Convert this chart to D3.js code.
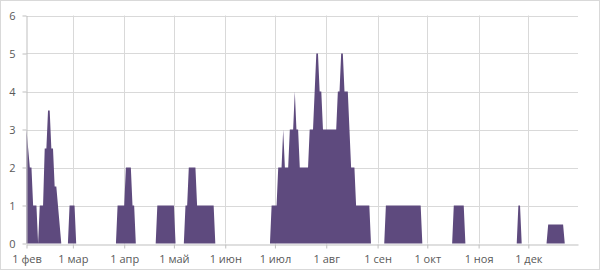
<!DOCTYPE html>
<html><head><meta charset="utf-8">
<script src="https://cdn.jsdelivr.net/npm/d3@7"></script>
<style>
html,body{margin:0;padding:0;background:#fff;}
svg{display:block;}
text{font-family:"Open Sans","Noto Sans",sans-serif;}
</style></head>
<body>
<svg id="c" width="600" height="270"></svg>
<script>
// daily values, one array per month (year without Feb 29)
const feb = [3,2.5,2,2,1,1,1,0,1,1,1,2.5,2.5,3.5,3.5,2.5,2.5,1.5,1.5,1,0.5,0,0,0,0,0,1,1];
const mar = [1,1,0,0,0,0,0,0,0,0,0,0,0,0,0,0,0,0,0,0,0,0,0,0,0,0,0,1,1,1,1];
const apr = [1,2,2,2,2,1,1,0,0,0,0,0,0,0,0,0,0,0,0,0,1,1,1,1,1,1,1,1,1,1];
const may = [1,0,0,0,0,0,0,1,1,2,2,2,2,2,1,1,1,1,1,1,1,1,1,1,1,0,0,0,0,0,0];
const jun = [0,0,0,0,0,0,0,0,0,0,0,0,0,0,0,0,0,0,0,0,0,0,0,0,0,0,0,0,1,1];
const jul = [1,1,2,2,2,3,2,2,2,3,3,3,4,3,3,2,2,2,2,2,2,3,3,3,4,5,5,4,4,3,3];
const aug = [3,3,3,3,3,3,3,4,4,5,5,4,4,4,3,2,2,2,1,1,1,1,1,1,1,1,1,0,0,0,0];
const sep = [0,0,0,0,0,1,1,1,1,1,1,1,1,1,1,1,1,1,1,1,1,1,1,1,1,1,1,0,0,0];
const oct = [0,0,0,0,0,0,0,0,0,0,0,0,0,0,0,0,1,1,1,1,1,1,1,0,0,0,0,0,0,0,0];
const nov = [0,0,0,0,0,0,0,0,0,0,0,0,0,0,0,0,0,0,0,0,0,0,0,0,1,1,0,0,0,0];
const dec = [0,0,0,0,0,0,0,0,0,0,0,0,0.5,0.5,0.5,0.5,0.5,0.5,0.5,0.5,0.5,0.5,0,0,0,0,0,0,0,0,0];

const tickLabels = ["1 фев","1 мар","1 апр","1 май","1 июн","1 июл","1 авг","1 сен","1 окт","1 ноя","1 дек"];
const yTicks = [0,1,2,3,4,5,6];

const monthly = [feb,mar,apr,may,jun,jul,aug,sep,oct,nov,dec];
const data = [];
monthly.forEach((arr, mi) => {
  arr.forEach((v, di) => data.push({date: new Date(2019, 1 + mi, 1 + di), value: v}));
});
const monthStarts = tickLabels.map((_, i) => new Date(2019, 1 + i, 1));

const svg = d3.select("#c");
const x = d3.scaleTime().domain([new Date(2019,1,1), new Date(2019,11,31)]).range([26.5, 578]);
const y = d3.scaleLinear().domain([0,6]).range([243.5, 15.5]);

// border
svg.append("rect").attr("x",0.5).attr("y",0.5).attr("width",599).attr("height",269)
  .attr("fill","none").attr("stroke","#d9d9d9");

// horizontal gridlines
svg.append("g").selectAll("line").data(yTicks.slice(1)).join("line")
  .attr("x1", 26.5).attr("x2", 578).attr("y1", d => Math.round(y(d))+0.5).attr("y2", d => Math.round(y(d))+0.5)
  .attr("stroke","#d9d9d9").attr("stroke-width",1);
// vertical gridlines
svg.append("g").selectAll("line").data(monthStarts.slice(1)).join("line")
  .attr("x1", d => Math.round(x(d))+0.5).attr("x2", d => Math.round(x(d))+0.5)
  .attr("y1", y(6)).attr("y2", y(0))
  .attr("stroke","#d9d9d9").attr("stroke-width",1);

// area
const area = d3.area().x(d => x(d.date)).y0(y(0)).y1(d => y(d.value)).curve(d3.curveLinear);
svg.append("path").datum(data).attr("d", area).attr("fill","#5e4a7e");

// x axis
const xAxis = svg.append("g").attr("transform",`translate(0,${Math.round(y(0))+0.5})`)
  .call(d3.axisBottom(x).tickValues(monthStarts).tickFormat((d,i) => tickLabels[i]).tickSize(4).tickSizeOuter(0));
xAxis.select(".domain").attr("stroke","#bfbfbf");
xAxis.selectAll(".tick line").attr("stroke","#bfbfbf");
xAxis.selectAll(".tick text").attr("fill","#595959").attr("font-size","11px").attr("dy","1.0em")
  .style("font-family",'"Open Sans","Noto Sans",sans-serif');

// y axis
const yAxis = svg.append("g").attr("transform","translate(26.5,0)")
  .call(d3.axisLeft(y).tickValues(yTicks).tickFormat(d3.format("d")).tickSize(4).tickSizeOuter(0).tickPadding(7));
yAxis.select(".domain").attr("stroke","#bfbfbf");
yAxis.selectAll(".tick line").attr("stroke","#bfbfbf");
yAxis.selectAll(".tick text").attr("fill","#595959").attr("font-size","11px")
  .style("font-family",'"Open Sans","Noto Sans",sans-serif');
</script>
</body></html>
